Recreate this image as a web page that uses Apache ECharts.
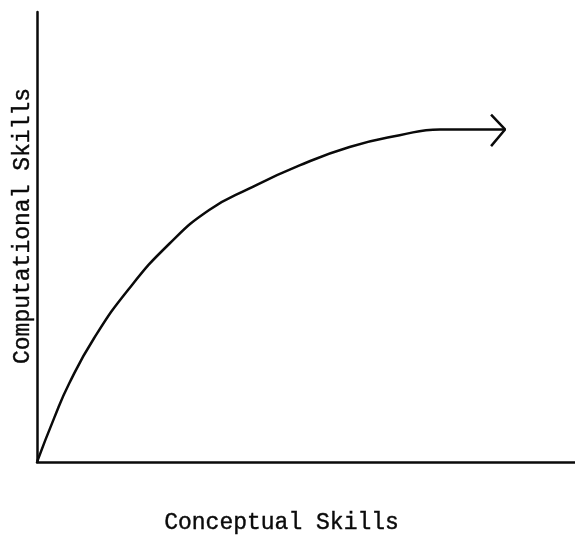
<!DOCTYPE html>
<html>
<head>
<meta charset="utf-8">
<script src="https://cdn.jsdelivr.net/npm/echarts@6/dist/echarts.min.js"></script>
<style>
html, body { margin: 0; padding: 0; background: #fff; }
#chart { width: 575px; height: 542px; }
</style>
</head>
<body>
<div id="chart"></div>
<script>
// curve (conceptual -> computational), 0..100 scale
var conceptual = [0, 3.2, 6.0, 10.6, 17.1, 24.6, 32.0, 39.5, 48.8, 58.1, 67.4, 74.9, 87.0];
var computational = [0, 9.8, 17.5, 27.5, 38.5, 48.5, 56.0, 60.8, 65.9, 70.0, 72.6, 73.9, 73.9];
// open arrow head at the end of the curve
var arrowX = [84.4, 87.0, 84.4];
var arrowY = [77.2, 73.9, 70.2];

var xTitle = "Conceptual Skills";
var yTitle = "Computational Skills";

function pairs(xs, ys) {
	var res = [];
	for (var i = 0; i < xs.length; i++) {
		res.push([xs[i], ys[i]]);
	}
	return res;
}

var myChart = echarts.init(document.getElementById('chart'));
var ink = '#0a0a0a';
var font = '"Liberation Mono", "DejaVu Sans Mono", monospace';

var option = {
	animation: false,
	backgroundColor: '#fff',
	grid: { left: 37, right: 0, top: 12, bottom: 80 },
	xAxis: {
		type: 'value', min: 0, max: 100,
		axisLine: { lineStyle: { color: ink, width: 2.5 } },
		axisTick: { show: false },
		axisLabel: { show: false },
		splitLine: { show: false }
	},
	yAxis: {
		type: 'value', min: 0, max: 100,
		axisLine: { show: true, lineStyle: { color: ink, width: 2.5 } },
		axisTick: { show: false },
		axisLabel: { show: false },
		splitLine: { show: false }
	},
	graphic: [
		{
			type: 'text', left: 164, top: 511,
			style: { text: xTitle, font: '23px ' + font, fill: ink, stroke: ink, lineWidth: 0.4 }
		},
		{
			type: 'text', x: 11, y: 364, rotation: Math.PI / 2,
			style: { text: yTitle, font: '23px ' + font, fill: ink, stroke: ink, lineWidth: 0.4, textVerticalAlign: 'top' }
		}
	],
	series: [
		{
			type: 'line', smooth: true, symbol: 'none',
			lineStyle: { color: ink, width: 2.5 },
			data: pairs(conceptual, computational)
		},
		{
			type: 'line', symbol: 'none',
			lineStyle: { color: ink, width: 2.5 },
			data: pairs(arrowX, arrowY)
		}
	]
};
myChart.setOption(option);
</script>
</body>
</html>
